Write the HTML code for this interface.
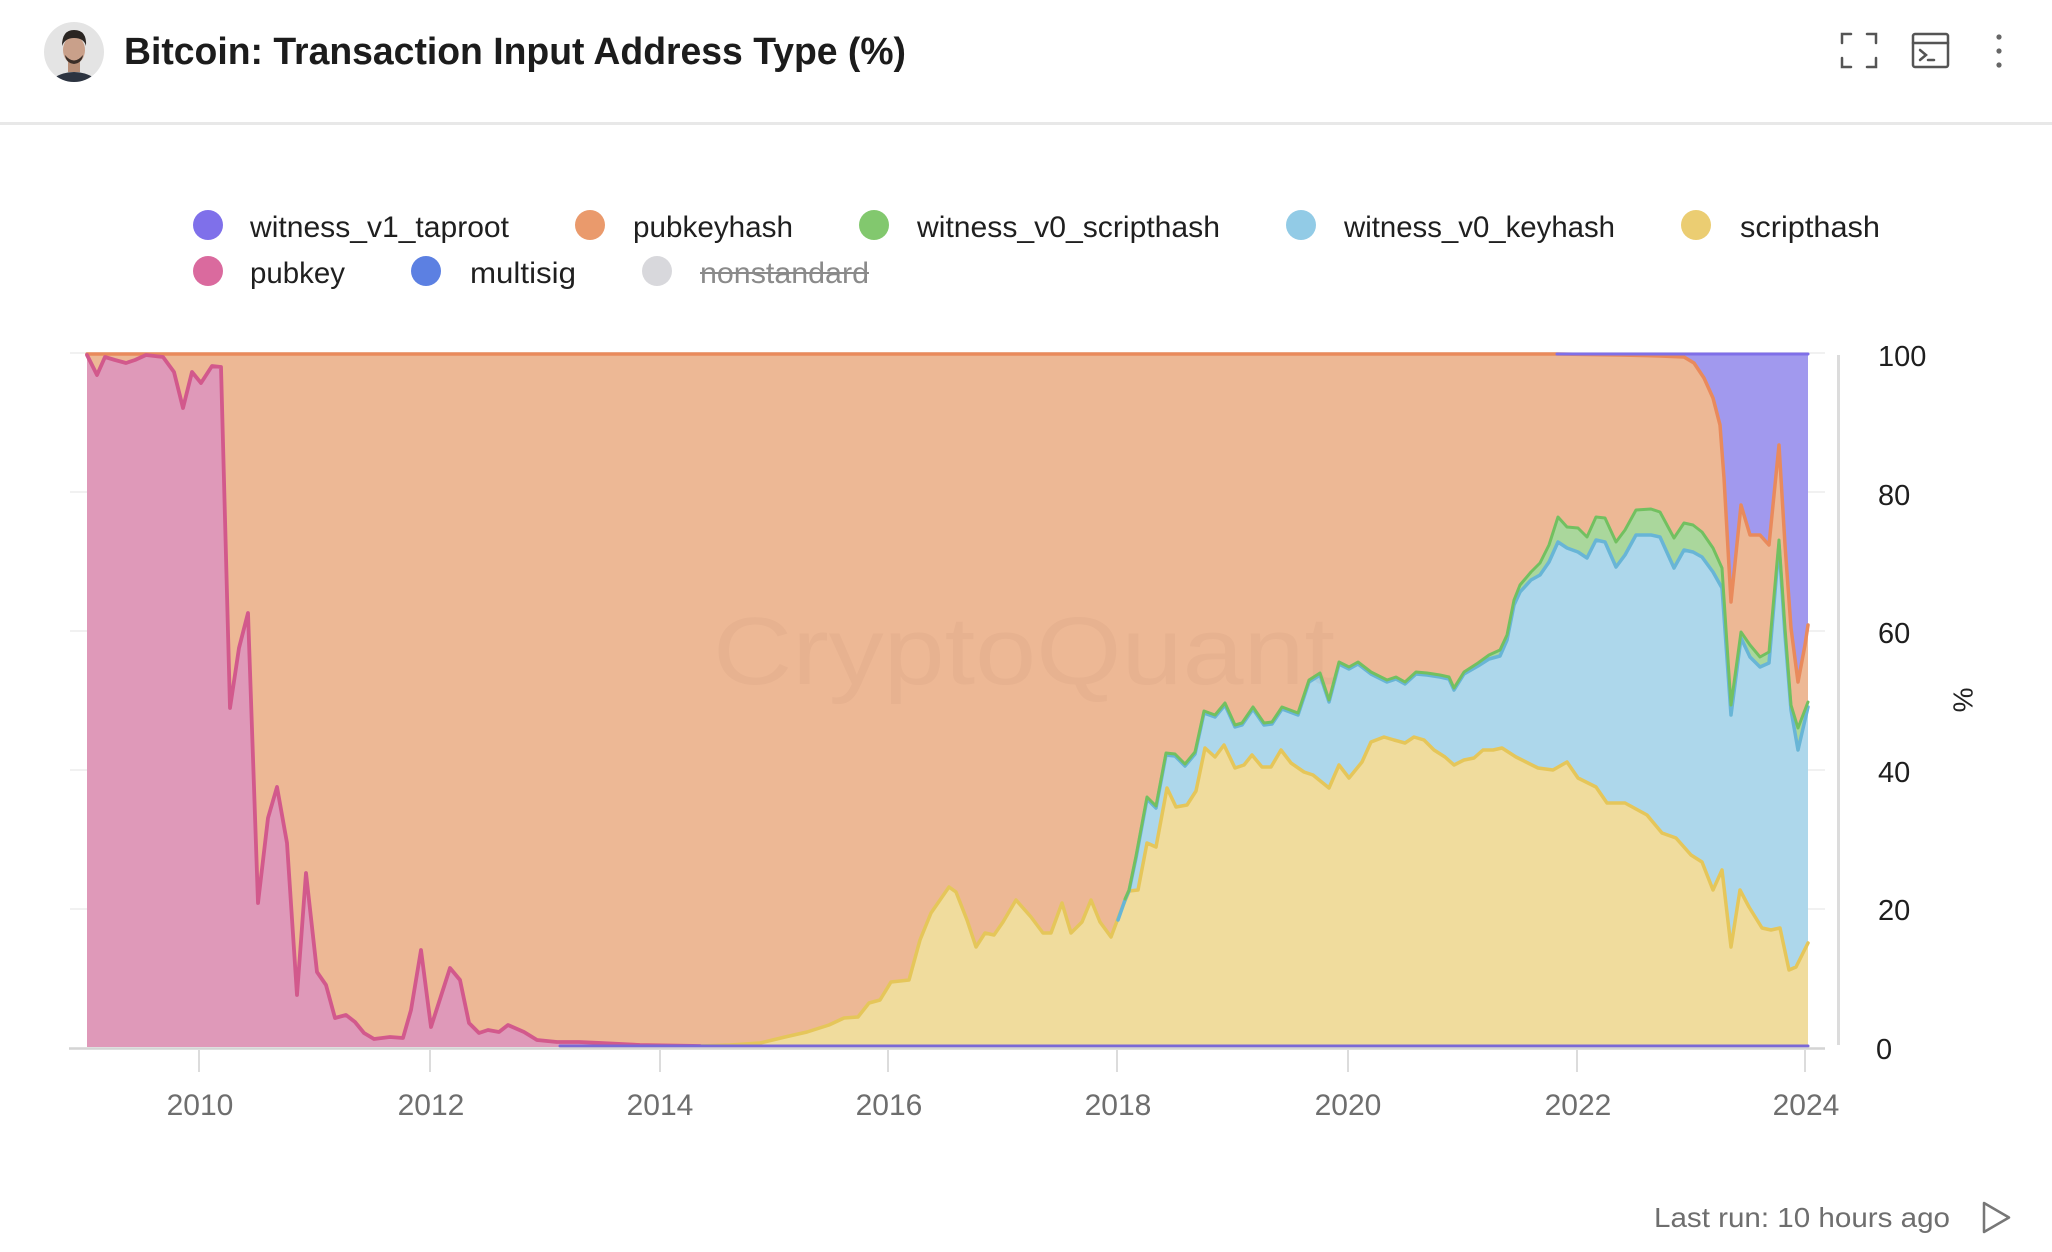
<!DOCTYPE html>
<html>
<head>
<meta charset="utf-8">
<style>
html,body{margin:0;padding:0;background:#fff;}
svg{display:block;}
text{font-family:"Liberation Sans",Arial,sans-serif;}
</style>
</head>
<body>
<svg width="2052" height="1252" viewBox="0 0 2052 1252" xmlns="http://www.w3.org/2000/svg">
<rect x="0" y="0" width="2052" height="1252" fill="#ffffff"/>

<!-- Header -->
<defs>
<clipPath id="av"><circle cx="74" cy="52" r="30"/></clipPath>
</defs>
<g clip-path="url(#av)">
<rect x="40" y="18" width="70" height="70" fill="#e4e4e4"/>
<ellipse cx="74" cy="92" rx="28" ry="20" fill="#2c3340"/>
<rect x="68" y="60" width="12" height="12" fill="#b88f78"/>
<ellipse cx="74" cy="50" rx="11" ry="14" fill="#c9a08a"/>
<path d="M62 46 Q62 30 74 30 Q87 30 86 46 Q84 38 74 38 Q65 38 62 46 Z" fill="#2a2522"/>
<path d="M65 55 Q74 66 83 55 Q82 63 74 64 Q66 63 65 55 Z" fill="#3a2e28"/>
</g>
<text x="124" y="64" font-size="38" font-weight="bold" fill="#1c1c1c" textLength="782" lengthAdjust="spacingAndGlyphs">Bitcoin: Transaction Input Address Type (%)</text>

<!-- header icons -->
<g stroke="#555" stroke-width="2.5" fill="none" stroke-linecap="round">
<path d="M1842 43 V34 H1851"/>
<path d="M1867 34 H1876 V43"/>
<path d="M1876 58 V67 H1867"/>
<path d="M1851 67 H1842 V58"/>
<rect x="1913" y="34" width="35" height="33" rx="2"/>
<line x1="1913" y1="43" x2="1948" y2="43"/>
<path d="M1920 50 L1926 55 L1920 60"/>
<line x1="1928" y1="60" x2="1934" y2="60"/>
</g>
<circle cx="1999" cy="37" r="2.6" fill="#666"/>
<circle cx="1999" cy="51" r="2.6" fill="#666"/>
<circle cx="1999" cy="65" r="2.6" fill="#666"/>

<rect x="0" y="122" width="2052" height="3" fill="#e8e8e8"/>

<!-- Legend -->
<g font-size="30" fill="#1f1f1f">
<circle cx="208" cy="225" r="15" fill="#7f70ea"/>
<text x="250" y="237" textLength="259" lengthAdjust="spacingAndGlyphs">witness_v1_taproot</text>
<circle cx="590" cy="225" r="15" fill="#ea9a6c"/>
<text x="633" y="237" textLength="160" lengthAdjust="spacingAndGlyphs">pubkeyhash</text>
<circle cx="874" cy="225" r="15" fill="#82c86e"/>
<text x="917" y="237" textLength="303" lengthAdjust="spacingAndGlyphs">witness_v0_scripthash</text>
<circle cx="1301" cy="225" r="15" fill="#92cbe6"/>
<text x="1344" y="237" textLength="271" lengthAdjust="spacingAndGlyphs">witness_v0_keyhash</text>
<circle cx="1696" cy="225" r="15" fill="#ebcd72"/>
<text x="1740" y="237" textLength="140" lengthAdjust="spacingAndGlyphs">scripthash</text>

<circle cx="208" cy="271" r="15" fill="#da6a9e"/>
<text x="250" y="283" textLength="95" lengthAdjust="spacingAndGlyphs">pubkey</text>
<circle cx="426" cy="271" r="15" fill="#5c80e2"/>
<text x="470" y="283" textLength="106" lengthAdjust="spacingAndGlyphs">multisig</text>
<circle cx="657" cy="271" r="15" fill="#d8d8dc"/>
<text x="700" y="283" textLength="169" lengthAdjust="spacingAndGlyphs" fill="#8a8a8a">nonstandard</text>
<line x1="700" y1="273" x2="869" y2="273" stroke="#8a8a8a" stroke-width="2"/>
</g>

<!-- gridlines -->
<g stroke="#f1f1f1" stroke-width="2">
<line x1="70" y1="353" x2="1825" y2="353"/>
<line x1="70" y1="492" x2="1825" y2="492"/>
<line x1="70" y1="631" x2="1825" y2="631"/>
<line x1="70" y1="770" x2="1825" y2="770"/>
<line x1="70" y1="909" x2="1825" y2="909"/>
</g>

<!-- Areas -->
<rect x="1550" y="353" width="258" height="694" fill="#a199ee"/>
<polygon fill="#edb895" points="87,353 1557,353 1620,354 1660,355 1684,357 1694,363 1704,378 1713,398 1720,425 1724,478 1731,602 1741,505 1750,535 1760,535 1769,545 1779,445 1785,545 1791,628 1798,682 1805,645 1808,625 1808,1047 87,1047"/>
<polygon fill="#aad79c" points="1125,899 1129,890 1136,856 1147,797 1156,806 1166,753 1175,754 1185,764 1195,752 1204,711 1215,715 1225,703 1235,725 1242,723 1253,707 1264,723 1272,722 1282,707 1298,713 1309,680 1320,673 1329,700 1339,662 1349,667 1358,662 1371,672 1387,680 1396,677 1405,682 1416,672 1427,673 1440,675 1449,677 1454,688 1464,672 1478,663 1489,655 1500,650 1507,635 1514,600 1520,585 1531,572 1540,563 1549,545 1558,517 1567,527 1578,528 1587,537 1596,517 1605,518 1616,542 1625,530 1636,510 1651,509 1660,512 1674,538 1684,523 1693,525 1702,532 1713,548 1722,568 1731,705 1741,632 1750,645 1760,657 1769,652 1779,540 1785,628 1791,705 1798,728 1808,702 1808,1047 1125,1047"/>
<polygon fill="#add7eb" points="1125,900 1129,891 1136,858 1147,799 1156,808 1166,755 1175,756 1185,766 1195,754 1204,713 1215,717 1225,705 1235,727 1242,725 1253,709 1264,725 1272,724 1282,709 1298,715 1309,682 1320,675 1329,702 1339,664 1349,669 1358,664 1371,674 1387,682 1396,679 1405,684 1416,674 1427,675 1440,677 1449,679 1454,690 1464,674 1478,666 1489,659 1500,656 1507,640 1514,605 1520,592 1531,580 1540,575 1549,562 1558,542 1567,548 1578,552 1587,558 1596,540 1605,542 1616,567 1625,555 1636,535 1651,535 1660,537 1674,568 1684,550 1693,552 1702,557 1713,572 1722,588 1731,715 1741,638 1750,657 1760,667 1769,663 1779,545 1785,635 1791,710 1798,750 1808,707 1808,1047 1125,1047"/>
<polygon fill="#f0dc9d" points="700,1046 730,1045 760,1043 785,1037 807,1032 829,1025 844,1018 858,1017 869,1003 880,1000 891,982 909,980 920,940 931,913 949,887 956,892 967,920 976,947 985,933 994,935 1003,922 1016,900 1031,917 1043,933 1051,933 1062,903 1071,933 1082,922 1091,900 1100,922 1111,937 1120,913 1129,891 1138,890 1147,843 1156,847 1167,788 1176,807 1187,805 1196,791 1205,748 1215,757 1224,745 1235,768 1244,765 1252,755 1262,767 1271,767 1281,750 1291,763 1304,772 1313,775 1329,788 1339,765 1349,778 1362,762 1371,742 1384,737 1394,740 1405,743 1414,737 1424,740 1434,750 1445,757 1454,765 1464,760 1474,758 1483,750 1493,750 1502,748 1516,757 1538,768 1553,770 1567,762 1578,778 1596,787 1607,803 1625,803 1647,815 1662,833 1676,838 1691,855 1702,862 1713,890 1722,870 1731,947 1740,890 1749,907 1762,928 1771,930 1780,928 1789,970 1796,967 1808,943 1808,1047 700,1047"/>
<polygon fill="#df99b9" points="87,355 97,375 105,357 115,360 126,363 135,360 146,355 163,357 174,372 183,408 192,372 201,383 212,366 221,367 230,708 239,648 248,613 258,903 268,818 277,787 287,843 297,995 306,873 317,972 326,985 335,1018 346,1015 355,1022 364,1033 374,1039 390,1037 403,1038 411,1010 421,950 431,1027 450,968 460,980 469,1023 479,1033 488,1030 499,1032 508,1025 524,1032 537,1040 557,1042 579,1042 601,1043 640,1045 700,1046 1808,1046 1808,1047 87,1047"/>

<!-- watermark -->
<text x="713" y="684" font-size="96" fill="#8a5a40" fill-opacity="0.06" textLength="622" lengthAdjust="spacingAndGlyphs">CryptoQuant</text>

<!-- Lines -->
<g fill="none" stroke-linejoin="round" stroke-linecap="round">
<polyline stroke="#e5c65a" stroke-width="3.5" points="700,1046 730,1045 760,1043 785,1037 807,1032 829,1025 844,1018 858,1017 869,1003 880,1000 891,982 909,980 920,940 931,913 949,887 956,892 967,920 976,947 985,933 994,935 1003,922 1016,900 1031,917 1043,933 1051,933 1062,903 1071,933 1082,922 1091,900 1100,922 1111,937 1120,913 1129,891 1138,890 1147,843 1156,847 1167,788 1176,807 1187,805 1196,791 1205,748 1215,757 1224,745 1235,768 1244,765 1252,755 1262,767 1271,767 1281,750 1291,763 1304,772 1313,775 1329,788 1339,765 1349,778 1362,762 1371,742 1384,737 1394,740 1405,743 1414,737 1424,740 1434,750 1445,757 1454,765 1464,760 1474,758 1483,750 1493,750 1502,748 1516,757 1538,768 1553,770 1567,762 1578,778 1596,787 1607,803 1625,803 1647,815 1662,833 1676,838 1691,855 1702,862 1713,890 1722,870 1731,947 1740,890 1749,907 1762,928 1771,930 1780,928 1789,970 1796,967 1808,943"/>
<polyline stroke="#68b5d6" stroke-width="3.5" points="1118,920 1125,900 1129,891 1136,858 1147,799 1156,808 1166,755 1175,756 1185,766 1195,754 1204,713 1215,717 1225,705 1235,727 1242,725 1253,709 1264,725 1272,724 1282,709 1298,715 1309,682 1320,675 1329,702 1339,664 1349,669 1358,664 1371,674 1387,682 1396,679 1405,684 1416,674 1427,675 1440,677 1449,679 1454,690 1464,674 1478,666 1489,659 1500,656 1507,640 1514,605 1520,592 1531,580 1540,575 1549,562 1558,542 1567,548 1578,552 1587,558 1596,540 1605,542 1616,567 1625,555 1636,535 1651,535 1660,537 1674,568 1684,550 1693,552 1702,557 1713,572 1722,588 1731,715 1741,638 1750,657 1760,667 1769,663 1779,545 1785,635 1791,710 1798,750 1808,707"/>
<polyline stroke="#72c060" stroke-width="3" points="1125,899 1129,890 1136,856 1147,797 1156,806 1166,753 1175,754 1185,764 1195,752 1204,711 1215,715 1225,703 1235,725 1242,723 1253,707 1264,723 1272,722 1282,707 1298,713 1309,680 1320,673 1329,700 1339,662 1349,667 1358,662 1371,672 1387,680 1396,677 1405,682 1416,672 1427,673 1440,675 1449,677 1454,688 1464,672 1478,663 1489,655 1500,650 1507,635 1514,600 1520,585 1531,572 1540,563 1549,545 1558,517 1567,527 1578,528 1587,537 1596,517 1605,518 1616,542 1625,530 1636,510 1651,509 1660,512 1674,538 1684,523 1693,525 1702,532 1713,548 1722,568 1731,705 1741,632 1750,645 1760,657 1769,652 1779,540 1785,628 1791,705 1798,728 1808,702"/>
<polyline stroke="#e98a5c" stroke-width="3.5" points="87,354 1557,354 1620,355 1660,356 1684,357 1694,363 1704,378 1713,398 1720,425 1724,478 1731,602 1741,505 1750,535 1760,535 1769,545 1779,445 1785,545 1791,628 1798,682 1805,645 1808,625"/>
<polyline stroke="#d2598c" stroke-width="3.8" points="87,355 97,375 105,357 115,360 126,363 135,360 146,355 163,357 174,372 183,408 192,372 201,383 212,366 221,367 230,708 239,648 248,613 258,903 268,818 277,787 287,843 297,995 306,873 317,972 326,985 335,1018 346,1015 355,1022 364,1033 374,1039 390,1037 403,1038 411,1010 421,950 431,1027 450,968 460,980 469,1023 479,1033 488,1030 499,1032 508,1025 524,1032 537,1040 557,1042 579,1042 601,1043 640,1045 700,1046"/>
<line x1="1557" y1="354" x2="1808" y2="354" stroke="#7f6fe8" stroke-width="3"/>
<line x1="560" y1="1046" x2="1808" y2="1046" stroke="#7a68d6" stroke-width="3"/>
</g>

<!-- Axes -->
<line x1="69" y1="1048.5" x2="1825" y2="1048.5" stroke="#d4d4d4" stroke-width="2.5"/>
<line x1="1838.5" y1="355" x2="1838.5" y2="1045" stroke="#dcdcdc" stroke-width="3"/>
<g stroke="#dcdcdc" stroke-width="2">
<line x1="199" y1="1050" x2="199" y2="1072"/>
<line x1="430" y1="1050" x2="430" y2="1072"/>
<line x1="660" y1="1050" x2="660" y2="1072"/>
<line x1="888" y1="1050" x2="888" y2="1072"/>
<line x1="1117" y1="1050" x2="1117" y2="1072"/>
<line x1="1348" y1="1050" x2="1348" y2="1072"/>
<line x1="1577" y1="1050" x2="1577" y2="1072"/>
<line x1="1805" y1="1050" x2="1805" y2="1072"/>
</g>
<g font-size="30" fill="#6e6e6e" text-anchor="middle">
<text x="200" y="1115">2010</text>
<text x="431" y="1115">2012</text>
<text x="660" y="1115">2014</text>
<text x="889" y="1115">2016</text>
<text x="1118" y="1115">2018</text>
<text x="1348" y="1115">2020</text>
<text x="1578" y="1115">2022</text>
<text x="1806" y="1115">2024</text>
</g>
<g font-size="29" fill="#1e1e1e">
<text x="1878" y="366">100</text>
<text x="1878" y="505">80</text>
<text x="1878" y="643">60</text>
<text x="1878" y="782">40</text>
<text x="1878" y="920">20</text>
<text x="1876" y="1059">0</text>
</g>
<text x="1963" y="700" font-size="28" fill="#222" text-anchor="middle" dominant-baseline="central" transform="rotate(90 1963 700)">%</text>

<!-- footer -->
<text x="1654" y="1227" font-size="28" fill="#6e6e6e" textLength="296" lengthAdjust="spacingAndGlyphs">Last run: 10 hours ago</text>
<polygon points="1984,1203 1984,1232 2009,1217.5" fill="none" stroke="#777" stroke-width="2.5" stroke-linejoin="round"/>
</svg>
</body>
</html>
